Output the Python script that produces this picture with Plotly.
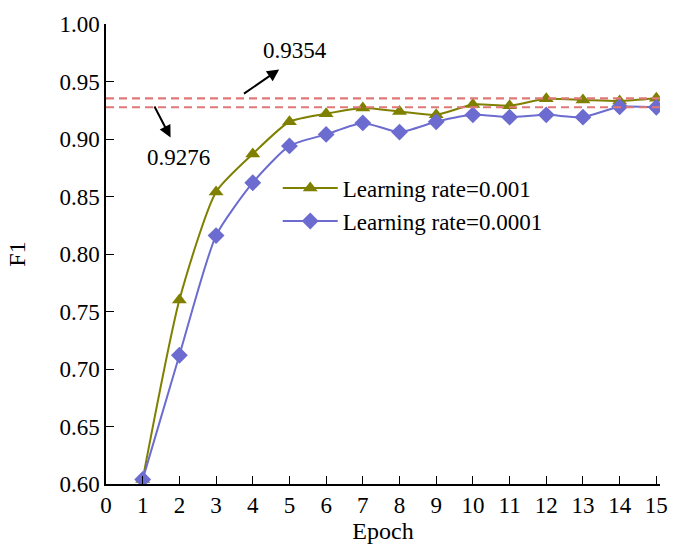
import plotly.graph_objects as go

epochs = list(range(1, 16))
f1_lr_001 = [0.604, 0.760, 0.854, 0.887, 0.915, 0.922, 0.927, 0.924, 0.921, 0.930, 0.929, 0.935, 0.934, 0.933, 0.9354]
f1_lr_0001 = [0.604, 0.712, 0.816, 0.862, 0.894, 0.904, 0.914, 0.906, 0.915, 0.921, 0.919, 0.921, 0.919, 0.928, 0.9276]
ref_levels = [0.9354, 0.9276]
ref_labels = ["0.9354", "0.9276"]
x_ticks = list(range(0, 16))
y_ticks = [0.60, 0.65, 0.70, 0.75, 0.80, 0.85, 0.90, 0.95, 1.00]

FONT = "Liberation Serif, Times New Roman, serif"
OLIVE = "#7f7f00"
PURPLE = "#6c6cd0"
DASH = "#e07878"

fig = go.Figure()
fig.add_trace(go.Scatter(
    x=epochs, y=f1_lr_001, mode="lines+markers", name="Learning rate=0.001",
    line=dict(color=OLIVE, width=2, shape="spline", smoothing=0.6),
    marker=dict(symbol="triangle-up", size=13, color=OLIVE),
    legendgroup="a"))
fig.add_trace(go.Scatter(
    x=epochs, y=f1_lr_0001, mode="lines+markers", name="Learning rate=0.0001",
    line=dict(color=PURPLE, width=2, shape="spline", smoothing=0.6),
    marker=dict(symbol="diamond", size=13, color=PURPLE),
    legendgroup="b"))

for lv in ref_levels:
    fig.add_shape(type="line", xref="paper", x0=0, x1=1, yref="y", y0=lv, y1=lv,
                  line=dict(color=DASH, width=2.2, dash="8px,5px"))

# arrows
fig.add_annotation(x=4.72, y=0.9605, ax=3.72, ay=0.9385, axref="x", ayref="y",
                   xref="x", yref="y", text="", showarrow=True,
                   arrowhead=2, arrowsize=1.2, arrowwidth=2, arrowcolor="black")
fig.add_annotation(x=1.76, y=0.9013, ax=1.30, ay=0.9296, axref="x", ayref="y",
                   xref="x", yref="y", text="", showarrow=True,
                   arrowhead=2, arrowsize=1.2, arrowwidth=2, arrowcolor="black")
fig.add_annotation(x=5.16, y=0.977, xref="x", yref="y", text=ref_labels[0],
                   showarrow=False, font=dict(family=FONT, size=23, color="black"))
fig.add_annotation(x=1.97, y=0.884, xref="x", yref="y", text=ref_labels[1],
                   showarrow=False, font=dict(family=FONT, size=23, color="black"))

fig.update_layout(
    width=680, height=551,
    margin=dict(l=106, r=14, t=18, b=67),
    paper_bgcolor="white", plot_bgcolor="white",
    font=dict(family=FONT, size=23, color="black"),
    showlegend=True,
    legend=dict(x=0.31, y=0.69, xanchor="left", yanchor="top",
                bgcolor="rgba(0,0,0,0)", font=dict(family=FONT, size=23),
                tracegroupgap=0, itemwidth=55),
    xaxis=dict(range=[0, 15.1], tickvals=x_ticks, ticktext=[str(t) for t in x_ticks],
               showline=True, linecolor="black", linewidth=1.5, mirror=False,
               ticks="inside", ticklen=8, tickcolor="black", showgrid=False, zeroline=False,
               title=dict(text="Epoch", standoff=2, font=dict(size=24)),
               tickfont=dict(size=23)),
    yaxis=dict(range=[0.60, 1.00], tickvals=y_ticks, ticktext=[f"{t:.2f}" for t in y_ticks],
               showline=True, linecolor="black", linewidth=1.5, mirror=False,
               ticks="inside", ticklen=8, tickcolor="black", showgrid=False, zeroline=False,
               title=dict(text="F1", standoff=27, font=dict(size=24)),
               tickfont=dict(size=23)),
)

fig.write_html("out.html", config={"displayModeBar": False},
               post_script="document.body.style.margin='0';")
